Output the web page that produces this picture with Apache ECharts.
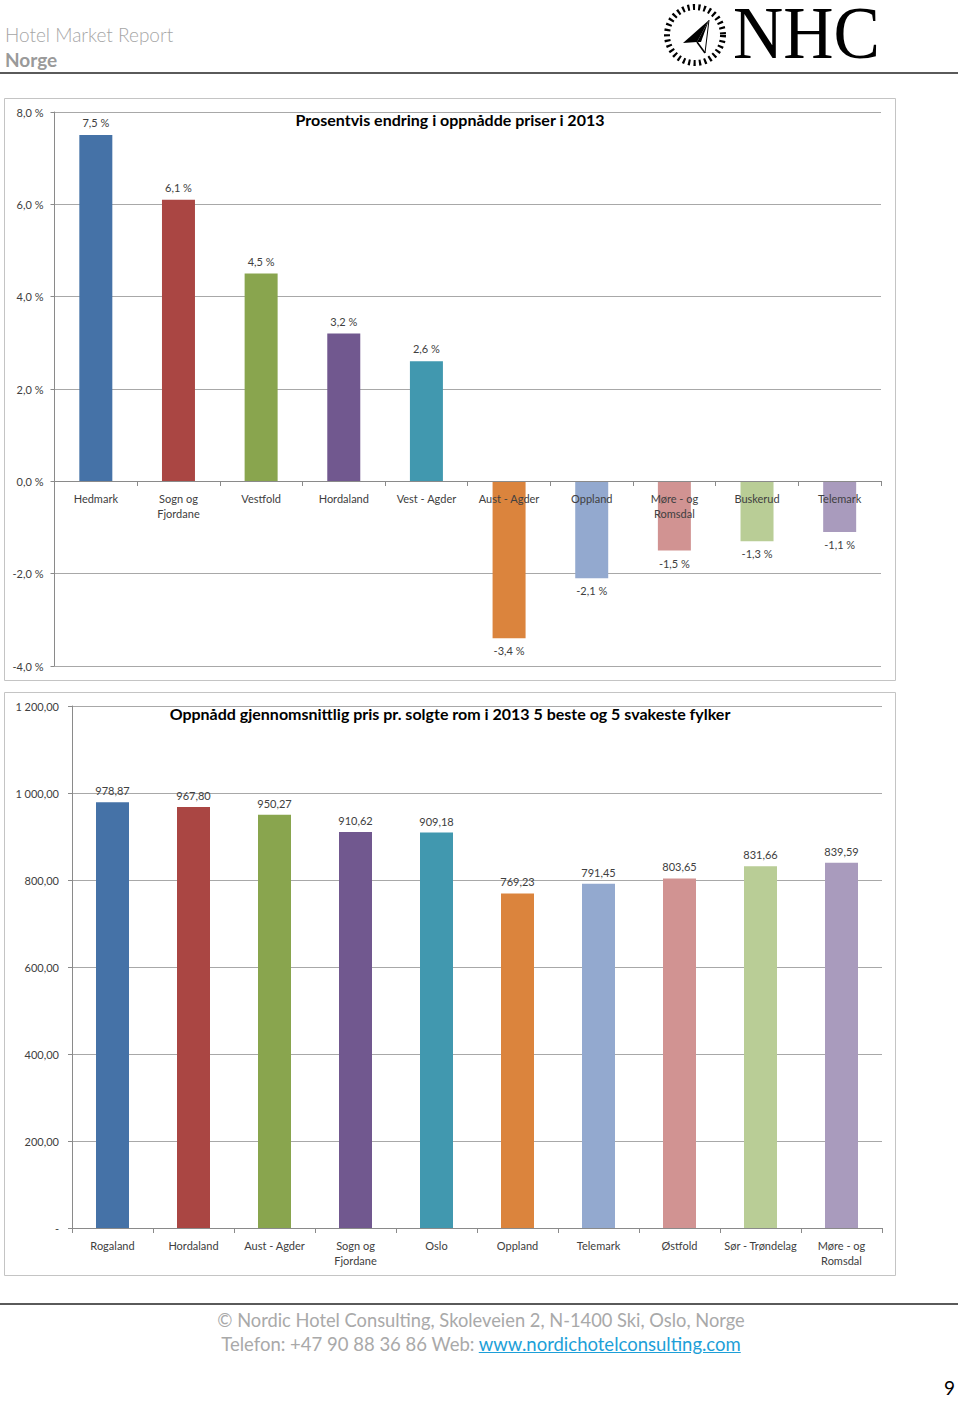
<!DOCTYPE html>
<html>
<head>
<meta charset="utf-8">
<script src="https://cdn.jsdelivr.net/npm/echarts@6/dist/echarts.min.js"></script>
<style>
  html, body { margin:0; padding:0; background:#fff; }
  #page { position:relative; width:960px; height:1401px; overflow:hidden; font-family: Lato, "Open Sans", sans-serif; }
  #chart { position:absolute; left:0; top:0; width:960px; height:1401px; }
  .abs { position:absolute; white-space:nowrap; }
  .hdr { color:#a6a6a6; font-size:19px; line-height:22px; }
  .rule { position:absolute; left:0; width:958px; height:2px; background:#5a5a5a; }
  .foot { left:0; width:962px; text-align:center; color:#a9a9a9; line-height:22px; }
  .foot a { color:#1d9fd8; text-decoration:underline; }
</style>
</head>
<body>
<div id="page">
  <div id="chart"></div>
  <div class="abs hdr" style="left:5px;top:24px;font-weight:300;">Hotel Market Report</div>
  <div class="abs hdr" style="left:5px;top:49px;font-weight:700;color:#9a9a9a;">Norge</div>
  <svg class="abs" style="left:655px;top:0px;overflow:visible;" width="235" height="70" viewBox="655 0 235 70">
    <circle cx="695" cy="35" r="28" fill="none" stroke="#000" stroke-width="6" stroke-dasharray="2.2 3.2"/>
    <polygon points="709,20 683,43 697,42" fill="#000"/>
    <polygon points="709,20 697,42 701,42" fill="#000"/>
    <line x1="697" y1="42" x2="705" y2="53" stroke="#000" stroke-width="1.6"/>
    <line x1="709" y1="20" x2="705" y2="53" stroke="#000" stroke-width="1"/>
    <text x="733" y="58" font-family="Liberation Serif, DejaVu Serif, serif" font-size="74" textLength="147" lengthAdjust="spacingAndGlyphs" fill="#000">NHC</text>
  </svg>
  <div class="rule" style="top:72px;"></div>
  <div class="rule" style="top:1303px;"></div>
  <div class="abs foot" style="top:1309px;font-size:18.3px;">© Nordic Hotel Consulting, Skoleveien 2, N-1400 Ski, Oslo, Norge</div>
  <div class="abs foot" style="top:1333px;font-size:18.5px;">Telefon: +47 90 88 36 86 Web: <a>www.nordichotelconsulting.com</a></div>
  <div class="abs" style="right:5px;top:1378px;font-size:19px;line-height:19px;color:#000;">9</div>
</div>
<script>
const palette = ['#4572A7','#AA4643','#89A54E','#71588F','#4198AF','#DB843D','#93A9CF','#D19392','#B9CD96','#A99BBD'];

const title1 = 'Prosentvis endring i oppnådde priser i 2013';
const cats1 = ['Hedmark','Sogn og\nFjordane','Vestfold','Hordaland','Vest - Agder','Aust - Agder','Oppland','Møre - og\nRomsdal','Buskerud','Telemark'];
const vals1 = [7.5, 6.1, 4.5, 3.2, 2.6, -3.4, -2.1, -1.5, -1.3, -1.1];
const axis1 = { min: -4, max: 8, interval: 2 };

const title2 = 'Oppnådd gjennomsnittlig pris pr. solgte rom i 2013 5 beste og 5 svakeste fylker';
const cats2 = ['Rogaland','Hordaland','Aust - Agder','Sogn og\nFjordane','Oslo','Oppland','Telemark','Østfold','Sør - Trøndelag','Møre - og\nRomsdal'];
const vals2 = [978.87, 967.80, 950.27, 910.62, 909.18, 769.23, 791.45, 803.65, 831.66, 839.59];
const axis2 = { min: 0, max: 1200, interval: 200 };

function pct(v) { return v.toFixed(1).replace('.', ',') + ' %'; }
function nok(v) {
  if (v === 0) return '-';
  const parts = v.toFixed(2).split('.');
  const int = parts[0].replace(/\B(?=(\d{3})+(?!\d))/g, ' ');
  return int + ',' + parts[1];
}

const txt = '#404040';
const gridColor = '#a8a8a8';
const axisColor = '#8a8a8a';
const fontFam = 'Lato, "Open Sans", sans-serif';

const chart = echarts.init(document.getElementById('chart'), null, { renderer: 'svg' });

function xAx(gi, cats, offset) {
  return {
    type: 'category', gridIndex: gi, data: cats, z: 10, position: 'bottom', offset: offset,
    axisLine: { onZero: false, lineStyle: { color: axisColor } },
    axisTick: { show: true, length: 5, lineStyle: { color: axisColor } },
    axisLabel: { color: txt, fontSize: 11, fontFamily: fontFam, margin: 10, lineHeight: 15, interval: 0 },
    splitLine: { show: false }
  };
}
function yAx(gi, a, fmt, margin) {
  return {
    type: 'value', gridIndex: gi, min: a.min, max: a.max, interval: a.interval,
    axisLine: { show: true, lineStyle: { color: axisColor } },
    axisTick: { show: true, length: 4, lineStyle: { color: axisColor } },
    axisLabel: { color: txt, fontSize: 11, fontFamily: fontFam, margin: margin, formatter: fmt },
    splitLine: { show: true, lineStyle: { color: gridColor, width: 1 } }
  };
}

chart.setOption({
  animation: false,
  grid: [
    { left: 54.5, top: 112, right: 79, bottom: 735, containLabel: false },
    { left: 72, top: 706, right: 78, bottom: 173, containLabel: false }
  ],
  xAxis: [xAx(0, cats1, -185), xAx(1, cats2, 0)],
  yAxis: [yAx(0, axis1, pct, 11), yAx(1, axis2, nok, 13)],
  graphic: [
    { type: 'rect', shape: { x: 4.5, y: 98.5, width: 891, height: 582 }, style: { fill: 'none', stroke: '#c4c4c4', lineWidth: 1 }, z: -10 },
    { type: 'rect', shape: { x: 4.5, y: 692.5, width: 891, height: 583 }, style: { fill: 'none', stroke: '#c4c4c4', lineWidth: 1 }, z: -10 },
    { type: 'text', x: 450, y: 119, style: { text: title1, font: 'bold 16px ' + fontFam, fill: '#000', textAlign: 'center', textVerticalAlign: 'middle' }, z: 20 },
    { type: 'text', x: 450, y: 713, style: { text: title2, font: 'bold 16px ' + fontFam, fill: '#000', textAlign: 'center', textVerticalAlign: 'middle' }, z: 20 }
  ],
  series: [
    {
      type: 'bar', xAxisIndex: 0, yAxisIndex: 0, data: vals1, barWidth: 33,
      itemStyle: { color: p => palette[p.dataIndex] },
      label: { show: true, position: 'outside', distance: 7, color: txt, fontSize: 11, fontFamily: fontFam, formatter: p => pct(p.value) }
    },
    {
      type: 'bar', xAxisIndex: 1, yAxisIndex: 1, data: vals2, barWidth: 33,
      itemStyle: { color: p => palette[p.dataIndex] },
      label: { show: true, position: 'top', distance: 6, color: txt, fontSize: 11, fontFamily: fontFam, formatter: p => nok(p.value) }
    }
  ]
});
</script>
</body>
</html>
